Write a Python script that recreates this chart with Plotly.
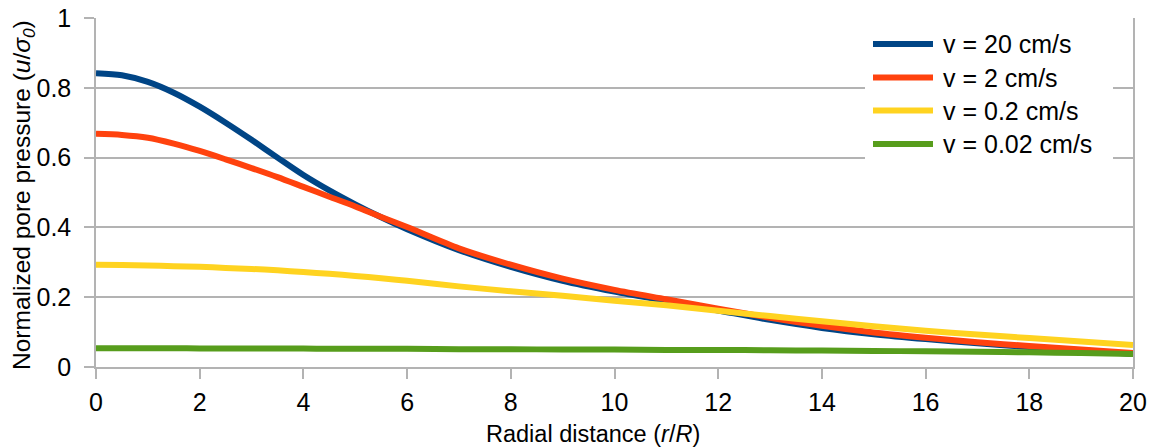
import plotly.graph_objects as go

# ---------------- data ----------------
r_over_R = [0, 0.5, 1, 1.5, 2, 2.5, 3, 3.5, 4, 4.5, 5, 5.5, 6,
            7, 8, 9, 10, 11, 12, 13, 14, 15, 16, 17, 18, 19, 20]

u_v20 = [0.842, 0.836, 0.817, 0.786, 0.746, 0.700, 0.651, 0.600, 0.550, 0.506, 0.466, 0.429, 0.395,
         0.335, 0.287, 0.247, 0.216, 0.189, 0.162, 0.135, 0.112, 0.094, 0.080, 0.068, 0.057, 0.048, 0.037]
u_v2 = [0.668, 0.665, 0.657, 0.640, 0.619, 0.595, 0.570, 0.544, 0.516, 0.488, 0.460, 0.430, 0.401,
        0.340, 0.293, 0.253, 0.221, 0.194, 0.167, 0.141, 0.118, 0.099, 0.084, 0.071, 0.060, 0.050, 0.040]
u_v02 = [0.293, 0.292, 0.291, 0.289, 0.287, 0.284, 0.281, 0.277, 0.272, 0.267, 0.261, 0.254, 0.247,
         0.231, 0.217, 0.204, 0.190, 0.177, 0.161, 0.146, 0.131, 0.117, 0.104, 0.093, 0.083, 0.073, 0.063]
u_v002 = [0.054, 0.054, 0.054, 0.054, 0.053, 0.053, 0.053, 0.053, 0.053, 0.052, 0.052, 0.052, 0.052,
          0.051, 0.051, 0.050, 0.050, 0.049, 0.049, 0.048, 0.047, 0.046, 0.045, 0.044, 0.042, 0.040, 0.037]

series_names = ["v = 20 cm/s", "v = 2 cm/s", "v = 0.2 cm/s", "v = 0.02 cm/s"]
series_values = [u_v20, u_v2, u_v02, u_v002]
series_colors = ["#004586", "#ff420e", "#ffd320", "#579d1c"]

x_ticks = [0, 2, 4, 6, 8, 10, 12, 14, 16, 18, 20]
y_ticks = [0, 0.2, 0.4, 0.6, 0.8, 1]
y_ticktext = ["0", "0.2", "0.4", "0.6", "0.8", "1"]

# ---------------- figure ----------------
# the page body has an 8px margin; size the figure so the plot lands where the reference has it
OFF = 8
WIN_W, WIN_H = 1155, 447
W, H = WIN_W - OFF, WIN_H - OFF
PL, PR, PT, PB = 96, 1133, 18, 367          # plot area in window pixels
L, R, T, B = PL - OFF, WIN_W - PR, PT - OFF, WIN_H - PB
FONT = "Liberation Sans, Arial, sans-serif"
GRID = "#b3b3b3"

fig = go.Figure()
for name, vals, col in zip(series_names, series_values, series_colors):
    fig.add_trace(go.Scatter(
        x=r_over_R, y=vals, mode="lines", name=name,
        line=dict(color=col, width=6, shape="spline", smoothing=0.8),
        showlegend=False,
    ))

pw = PR - PL
ph = PB - PT


def px2paper_x(px):
    return (px - PL) / pw


def py2paper_y(py):
    return (PB - py) / ph


# legend drawn with long line samples like the reference
shapes = [dict(type="rect", xref="paper", yref="paper",
               x0=px2paper_x(865), x1=px2paper_x(1113),
               y0=py2paper_y(160), y1=py2paper_y(28),
               fillcolor="white", line=dict(width=0), layer="above")]
annotations = []
leg_y = [44, 77.5, 110.5, 144]
for name, col, yy in zip(series_names, series_colors, leg_y):
    shapes.append(dict(type="line", xref="paper", yref="paper",
                       x0=px2paper_x(873), x1=px2paper_x(933),
                       y0=py2paper_y(yy), y1=py2paper_y(yy),
                       line=dict(color=col, width=6), layer="above"))
    annotations.append(dict(xref="paper", yref="paper",
                            x=px2paper_x(941), y=py2paper_y(yy),
                            xanchor="left", yanchor="middle", showarrow=False,
                            text=name, font=dict(family=FONT, size=25, color="black")))

annotations.append(dict(xref="paper", yref="paper",
                        x=px2paper_x(593), y=py2paper_y(434),
                        xanchor="center", yanchor="middle", showarrow=False,
                        text="Radial distance (<i>r</i>/<i>R</i>)",
                        font=dict(family=FONT, size=23.5, color="black")))
annotations.append(dict(xref="paper", yref="paper",
                        x=px2paper_x(23), y=py2paper_y(195),
                        xanchor="center", yanchor="middle", showarrow=False,
                        textangle=-90,
                        text="Normalized pore pressure (<i>u</i>/<i>σ<sub>0</sub></i>)",
                        font=dict(family=FONT, size=24.5, color="black")))

fig.update_layout(
    width=W, height=H,
    margin=dict(l=L, r=R, t=T, b=B, pad=0, autoexpand=False),
    paper_bgcolor="white", plot_bgcolor="white",
    font=dict(family=FONT, size=24, color="black"),
    shapes=shapes, annotations=annotations,
    showlegend=False,
)
fig.update_xaxes(
    range=[0, 20], tickvals=x_ticks, ticktext=[str(v) for v in x_ticks],
    showgrid=False, zeroline=False, automargin=False,
    showline=True, linecolor=GRID, linewidth=1.5, mirror=False,
    ticks="outside", ticklen=10, tickcolor=GRID, tickwidth=1.5,
    ticklabelstandoff=2, ticklabeloverflow="allow",
    tickfont=dict(family=FONT, size=25, color="black"),
)
fig.update_yaxes(
    range=[0, 1], tickvals=y_ticks, ticktext=y_ticktext,
    showgrid=True, gridcolor=GRID, gridwidth=1.5, zeroline=False, automargin=False,
    showline=True, linecolor=GRID, linewidth=1.5, mirror=True,
    ticks="outside", ticklen=10, tickcolor=GRID, tickwidth=1.5,
    ticklabelstandoff=8, ticklabeloverflow="allow",
    tickfont=dict(family=FONT, size=25, color="black"),
)

fig.write_html("out.html")
